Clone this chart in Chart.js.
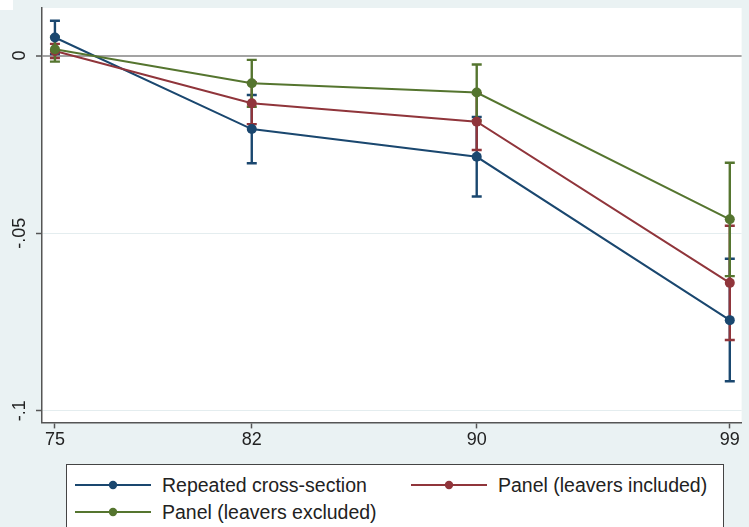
<!DOCTYPE html>
<html>
<head>
<meta charset="utf-8">
<script src="https://cdn.jsdelivr.net/npm/chart.js@4"></script>
<style>
  body { margin: 0; background: #eaf2f3; }
  #wrap { position: relative; width: 749px; height: 527px; overflow: hidden; }
  #corner { position: absolute; left: 0; top: 0; width: 13px; height: 10px; background: #fff; }
  #legend {
    position: absolute; left: 66px; top: 464px; width: 656px; height: 80px;
    border: 1px solid #444; background: #fff;
    font-family: 'Liberation Sans', Arial, sans-serif; font-size: 19.5px; color: #222;
  }
  .item { position: absolute; display: flex; align-items: center; white-space: nowrap; }
  .item svg { margin-right: 11px; }
</style>
</head>
<body>
<div id="wrap">
  <canvas id="myChart" width="749" height="527"></canvas>
  <div id="corner"></div>
  <div id="legend"></div>
</div>
<script>
const years = [75, 82, 90, 99];
const seriesNames = ['Repeated cross-section', 'Panel (leavers included)', 'Panel (leavers excluded)'];

const crossSection   = [0.0051, -0.0207, -0.0285, -0.0745];
const crossSectionLo = [0.0004, -0.0303, -0.0397, -0.0917];
const crossSectionHi = [0.0098, -0.0111, -0.0173, -0.0572];

const leaversIn   = [0.0013, -0.0134, -0.0186, -0.0640];
const leaversInLo = [-0.0007, -0.0193, -0.0266, -0.0801];
const leaversInHi = [0.0033, -0.0075, -0.0106, -0.0479];

const leaversOut   = [0.0018, -0.0078, -0.0104, -0.0461];
const leaversOutLo = [-0.0017, -0.0144, -0.0183, -0.0621];
const leaversOutHi = [0.0053, -0.0012, -0.0025, -0.0302];

const yTickValues = [0, -0.05, -0.1];
const yTickLabels = ['0', '-.05', '-.1'];

const colors = ['#1a476f', '#90353b', '#55752f'];

const font = "'Liberation Sans', Arial, sans-serif";

function line(label, values, color, order) {
    return {
        label: label,
        data: years.map((x, i) => ({ x: x, y: values[i] })),
        borderColor: color,
        backgroundColor: color,
        borderWidth: 2,
        pointRadius: 5,
        pointHoverRadius: 5,
        pointBorderWidth: 0,
        pointBackgroundColor: color,
        order: order
    };
}

function errorBars(lo, hi, color, order) {
    const pts = [];
    years.forEach((x, i) => {
        pts.push({ x: x, y: hi[i] }, { x: x, y: lo[i] }, { x: x, y: null });
    });
    return {
        label: 'ci',
        data: pts,
        borderColor: color,
        borderWidth: 2.4,
        pointStyle: 'line',
        pointRadius: 5,
        pointHoverRadius: 5,
        pointBorderWidth: 2.4,
        pointBorderColor: color,
        spanGaps: false,
        order: order
    };
}

// white plot region + rotated y labels
const plotBits = {
    id: 'plotBits',
    beforeDraw(chart) {
        const a = chart.chartArea;
        const ctx = chart.ctx;
        ctx.save();
        ctx.fillStyle = '#ffffff';
        ctx.fillRect(a.left, a.top, a.right - a.left, a.bottom - a.top);
        ctx.restore();
    },
    afterDraw(chart) {
        const y = chart.scales.y;
        const ctx = chart.ctx;
        ctx.save();
        ctx.font = '18px ' + font;
        ctx.fillStyle = '#222';
        ctx.textAlign = 'center';
        ctx.textBaseline = 'middle';
        yTickValues.forEach((v, i) => {
            ctx.save();
            ctx.translate(20, y.getPixelForValue(v));
            ctx.rotate(-Math.PI / 2);
            ctx.fillText(yTickLabels[i], 0, 0);
            ctx.restore();
        });
        ctx.restore();
    }
};

const chartOne = document.getElementById('myChart');
new Chart(chartOne, {
    type: 'line',
    data: {
        datasets: [
            line(seriesNames[2], leaversOut, colors[2], 0),
            line(seriesNames[1], leaversIn, colors[1], 1),
            line(seriesNames[0], crossSection, colors[0], 2),
            errorBars(leaversOutLo, leaversOutHi, colors[2], 3),
            errorBars(leaversInLo, leaversInHi, colors[1], 4),
            errorBars(crossSectionLo, crossSectionHi, colors[0], 5)
        ]
    },
    options: {
        responsive: false,
        animation: false,
        devicePixelRatio: 1,
        layout: { padding: { left: 36, top: 8, right: 2, bottom: 75 } },
        plugins: {
            legend: { display: false },
            tooltip: { enabled: false }
        },
        scales: {
            x: {
                type: 'linear',
                min: 74.54,
                max: 99.42,
                afterBuildTicks: (s) => { s.ticks = years.map(v => ({ value: v })); },
                ticks: {
                    font: { family: font, size: 18 },
                    color: '#222',
                    padding: 1,
                    maxRotation: 0,
                    callback: (v) => String(v)
                },
                grid: { drawOnChartArea: false, tickLength: 6, tickColor: '#555', tickWidth: 1.5 },
                border: { color: '#555', width: 1.5 }
            },
            y: {
                min: -0.1033,
                max: 0.0134,
                afterBuildTicks: (s) => { s.ticks = yTickValues.map(v => ({ value: v })); },
                ticks: { display: false },
                grid: {
                    color: (c) => (c.tick && c.tick.value === 0) ? '#a3a3a3' : '#e4edef',
                    lineWidth: (c) => (c.tick && c.tick.value === 0) ? 2 : 1,
                    tickLength: 6,
                    tickColor: '#555',
                    tickWidth: 1.5
                },
                border: { color: '#555', width: 1.5 }
            }
        }
    },
    plugins: [plotBits]
});

// legend box like the Stata one
const legend = document.getElementById('legend');
const spots = [[8, 20], [344, 20], [8, 47]];
seriesNames.forEach((name, i) => {
    const d = document.createElement('div');
    d.className = 'item';
    d.style.left = spots[i][0] + 'px';
    d.style.top = (spots[i][1] - 12) + 'px';
    d.style.height = '24px';
    d.innerHTML = '<svg width="76" height="10"><line x1="0" y1="5" x2="76" y2="5" stroke="' + colors[i] +
        '" stroke-width="2"/><circle cx="38" cy="5" r="4.2" fill="' + colors[i] + '"/></svg>' +
        '<span>' + name + '</span>';
    legend.appendChild(d);
});
</script>
</body>
</html>
